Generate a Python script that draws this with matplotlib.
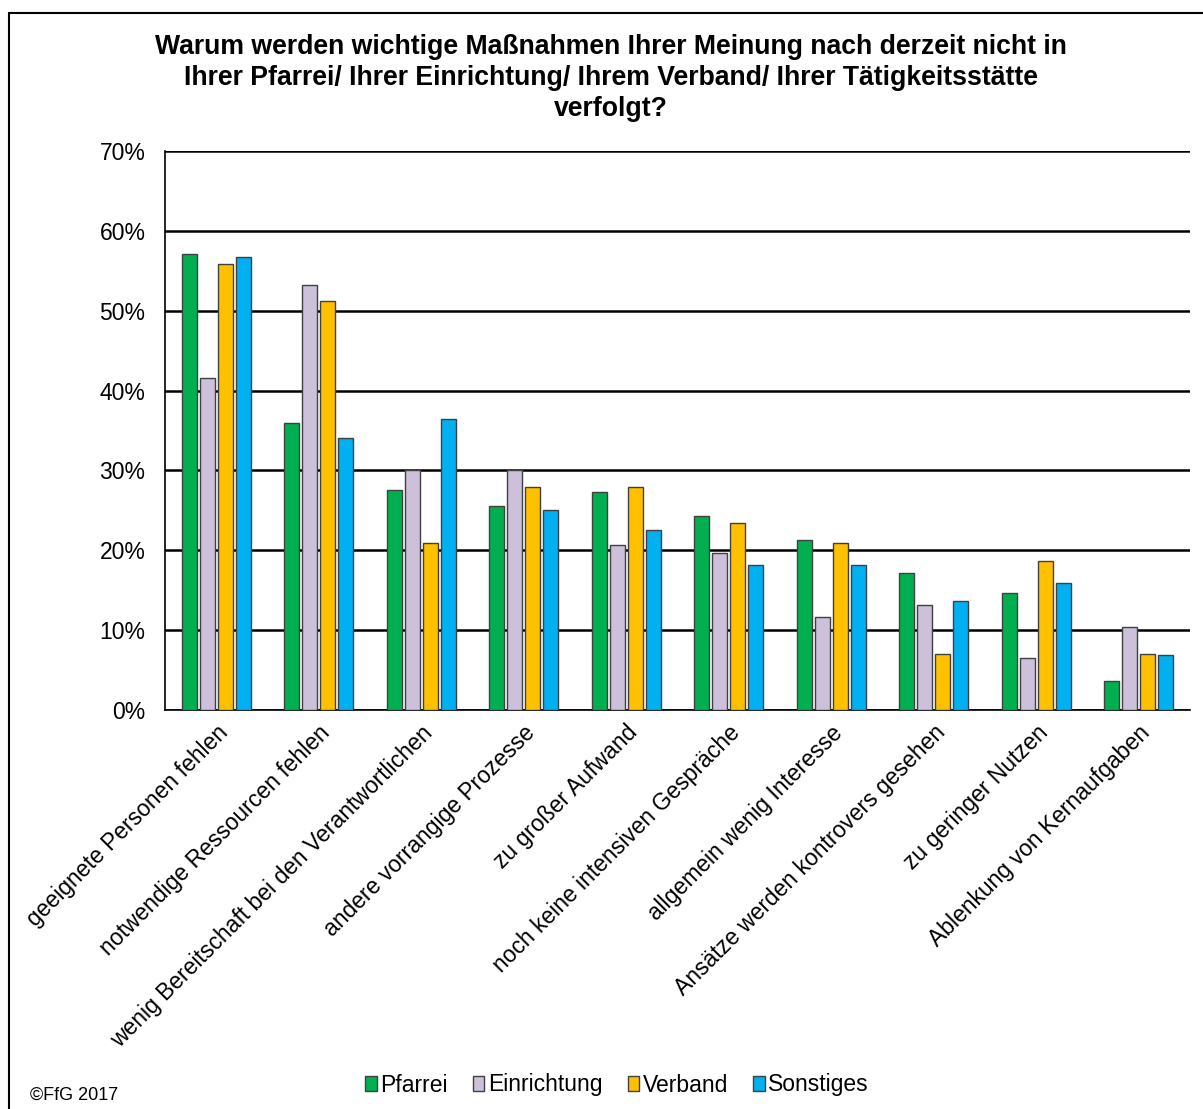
"""
plot.py
grouped bar chart: reasons why measures are not pursued (FfG 2017)
"""

import numpy as np
import matplotlib
matplotlib.use("Agg")
import matplotlib.pyplot as plt
from matplotlib.patches import Rectangle

plt.rcParams["font.family"] = ["Liberation Sans", "DejaVu Sans"]

# data
CATEGORIES = [
    "geeignete Personen fehlen",
    "notwendige Ressourcen fehlen",
    "wenig Bereitschaft bei den Verantwortlichen",
    "andere vorrangige Prozesse",
    "zu großer Aufwand",
    "noch keine intensiven Gespräche",
    "allgemein wenig Interesse",
    "Ansätze werden kontrovers gesehen",
    "zu geringer Nutzen",
    "Ablenkung von Kernaufgaben",
]
PFARREI = [57.1, 35.9, 27.5, 25.6, 27.3, 24.3, 21.3, 17.1, 14.7, 3.6]
EINRICHTUNG = [41.6, 53.2, 30.0, 30.0, 20.7, 19.6, 11.7, 13.1, 6.5, 10.4]
VERBAND = [55.8, 51.2, 20.9, 27.9, 27.9, 23.4, 20.9, 7.0, 18.6, 7.0]
SONSTIGES = [56.7, 34.1, 36.4, 25.0, 22.6, 18.1, 18.1, 13.6, 15.9, 6.9]

SERIES = ["Pfarrei", "Einrichtung", "Verband", "Sonstiges"]
COLORS = ["#00B050", "#CCC0DA", "#FFC000", "#00B0F0"]

TITLE = ("Warum werden wichtige Maßnahmen Ihrer Meinung nach derzeit nicht in\n"
         "Ihrer Pfarrei/ Ihrer Einrichtung/ Ihrem Verband/ Ihrer Tätigkeitsstätte\n"
         "verfolgt?")

fig = plt.figure(figsize=(12.03, 11.09), dpi=100)
fig.patch.set_facecolor("white")

# outer frame
fig.patches.append(Rectangle((9 / 1203, -0.01), 1.05, 1 - 13 / 1109 + 0.01,
                             transform=fig.transFigure, fill=False,
                             edgecolor="black", linewidth=1.5))

ax = fig.add_axes([165 / 1203, 1 - 710 / 1109, (1190 - 165) / 1203, (710 - 151) / 1109])

x = np.arange(len(CATEGORIES))
width = 0.146
step = 0.176
for i, (vals, name, col) in enumerate(zip([PFARREI, EINRICHTUNG, VERBAND, SONSTIGES], SERIES, COLORS)):
    ax.bar(x + (i - 1.5) * step, vals, width, color=col, edgecolor="#404040",
           linewidth=1.0, label=name, zorder=3)

ax.set_xlim(-0.5, len(CATEGORIES) - 0.5)
ax.set_ylim(0, 70)
ax.set_yticks(range(0, 71, 10))
ax.set_yticklabels([f"{v}%" for v in range(0, 71, 10)], fontsize=16.5)
ax.yaxis.grid(True, color="black", linewidth=1.8, zorder=1)
ax.set_axisbelow(True)

for s in ["top", "right"]:
    ax.spines[s].set_visible(False)
ax.spines["left"].set_linewidth(1.2)
ax.spines["bottom"].set_linewidth(1.2)
ax.tick_params(axis="y", length=0, pad=14)
ax.tick_params(axis="x", length=0, pad=8)

ax.set_xticks(x)
ax.set_xticklabels(CATEGORIES, rotation=45, ha="right", rotation_mode="anchor",
                   fontsize=16.5)

fig.text(611 / 1203, 1 - 78 / 1109, TITLE, ha="center", va="center", fontsize=19.2,
         fontweight="bold", linespacing=1.26)

fig.legend(loc="center", bbox_to_anchor=(617 / 1203, 1 - 1085 / 1109), ncol=4,
           frameon=False, fontsize=16.5, handlelength=0.5, handleheight=0.6,
           handletextpad=0.15, columnspacing=1.1)

fig.text(30 / 1203, 1 - 1095 / 1109, "©FfG 2017", ha="left", va="center",
         fontsize=13)

fig.savefig("out.png", dpi=100)
